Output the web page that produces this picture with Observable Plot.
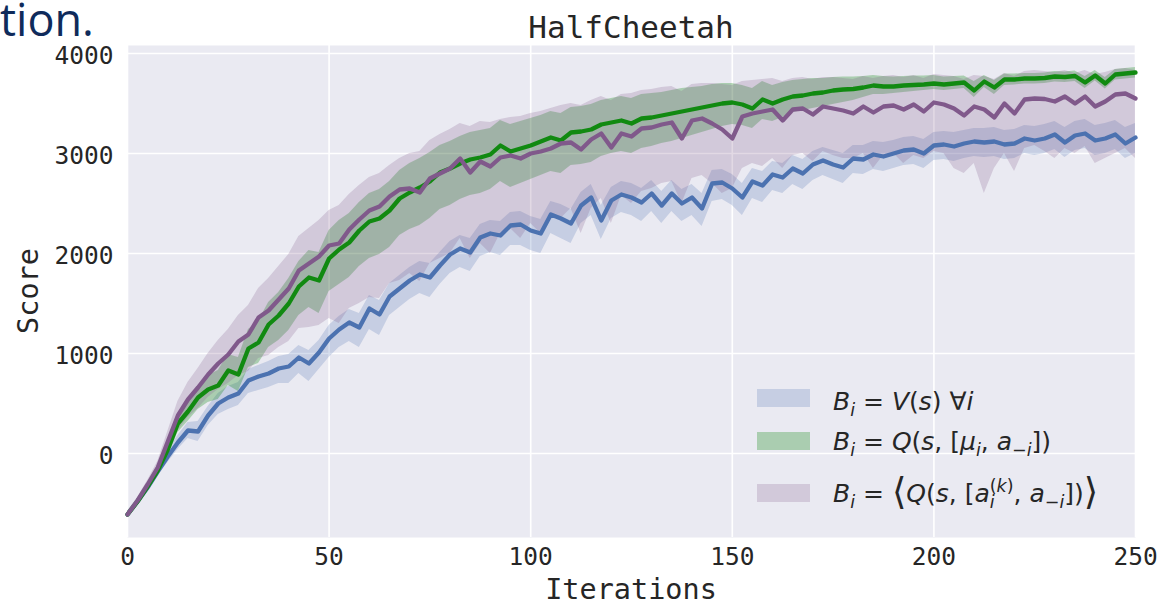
<!DOCTYPE html>
<html>
<head>
<meta charset="utf-8">
<script src="https://cdn.jsdelivr.net/npm/d3@7"></script>
<script src="https://cdn.jsdelivr.net/npm/@observablehq/plot@0.6"></script>
<style>
  html, body { margin: 0; padding: 0; background: #ffffff; }
  body { width: 1160px; height: 605px; overflow: hidden; }
</style>
</head>
<body>
<div id="chart"></div>
<script>
// ---------------- data ----------------
const iterStep = 2.5;               // samples every 2.5 iterations, 0..250
const xTicks = [0, 50, 100, 150, 200, 250];
const yTicks = [0, 1000, 2000, 3000, 4000];
const titleText = "HalfCheetah";
const xLabel = "Iterations";
const yLabel = "Score";
const seriesNames = ["V", "Qmu", "Qavg"];

const blueMean = [
  -610,-480,-340,-180,-30,110,230,220,380,500,
  560,600,730,770,800,850,870,960,900,1010,
  1150,1240,1310,1260,1450,1390,1570,1650,1730,1790,
  1760,1880,1990,2050,2010,2160,2200,2180,2280,2290,
  2230,2200,2390,2350,2300,2480,2560,2330,2530,2590,
  2560,2510,2600,2480,2600,2500,2560,2450,2700,2710,
  2650,2560,2720,2680,2790,2760,2850,2800,2890,2930,
  2890,2860,2950,2940,2990,2970,3000,3030,3040,3000,
  3080,3090,3070,3100,3120,3110,3120,3090,3100,3150,
  3130,3150,3190,3110,3180,3200,3130,3150,3190,3100,
  3160];
const blueLo = [
  -640,-510,-380,-230,-90,40,150,120,280,390,
  440,480,600,630,660,700,700,800,720,840,
  960,1060,1120,1060,1240,1180,1380,1460,1540,1600,
  1560,1690,1800,1860,1820,1970,2010,1980,2080,2080,
  2030,2000,2200,2150,2100,2300,2380,2140,2350,2410,
  2380,2320,2420,2300,2420,2320,2380,2270,2520,2540,
  2480,2380,2550,2510,2630,2600,2690,2640,2730,2780,
  2740,2700,2800,2790,2840,2820,2850,2880,2890,2850,
  2930,2940,2920,2950,2970,2960,2970,2940,2950,3000,
  2980,3000,3040,2960,3030,3050,2980,3000,3040,2950,
  3000];
const blueHi = [
  -580,-450,-300,-130,30,180,310,320,470,600,
  670,710,840,880,920,970,990,1080,1030,1130,
  1280,1370,1440,1400,1580,1530,1700,1780,1860,1920,
  1900,2010,2120,2180,2150,2290,2330,2320,2410,2420,
  2370,2340,2520,2490,2440,2610,2690,2480,2660,2720,
  2700,2650,2730,2620,2730,2640,2690,2600,2830,2840,
  2790,2700,2850,2820,2920,2900,2980,2940,3020,3060,
  3030,3000,3080,3080,3120,3110,3130,3160,3170,3140,
  3210,3220,3210,3230,3250,3250,3260,3230,3240,3280,
  3270,3290,3320,3260,3320,3340,3280,3300,3330,3260,
  3300];

const greenMean = [
  -610,-480,-330,-170,40,300,420,560,640,680,
  830,790,1050,1110,1290,1380,1500,1670,1760,1730,
  1950,2040,2110,2230,2320,2350,2430,2550,2610,2660,
  2720,2810,2850,2900,2940,2960,2990,3080,3020,3050,
  3080,3120,3160,3130,3210,3220,3240,3290,3310,3330,
  3300,3350,3360,3380,3400,3420,3440,3460,3480,3500,
  3510,3490,3450,3540,3500,3540,3570,3580,3600,3610,
  3630,3640,3645,3660,3680,3670,3670,3680,3685,3690,
  3700,3690,3700,3710,3630,3720,3660,3740,3740,3750,
  3750,3755,3770,3765,3775,3710,3780,3700,3790,3800,
  3810];
const greenLo = [
  -640,-510,-370,-220,-30,210,320,440,510,540,
  680,620,860,900,1060,1130,1230,1380,1460,1400,
  1620,1690,1760,1870,1950,1990,2060,2180,2240,2280,
  2350,2440,2480,2540,2580,2600,2640,2720,2660,2700,
  2740,2780,2820,2800,2880,2890,2910,2970,3000,3020,
  3000,3050,3070,3100,3120,3150,3180,3210,3240,3270,
  3290,3280,3250,3340,3320,3360,3410,3430,3450,3470,
  3490,3510,3530,3560,3590,3590,3600,3610,3620,3630,
  3640,3630,3640,3650,3560,3660,3590,3680,3685,3695,
  3695,3700,3715,3710,3720,3650,3725,3645,3735,3745,
  3755];
const greenHi = [
  -580,-450,-290,-120,110,390,520,680,780,830,
  990,960,1240,1320,1510,1610,1750,1920,2030,2010,
  2230,2330,2400,2510,2600,2640,2720,2830,2900,2950,
  3010,3080,3120,3170,3210,3230,3250,3330,3290,3320,
  3350,3380,3420,3400,3460,3470,3490,3530,3550,3570,
  3550,3590,3600,3610,3630,3650,3660,3670,3690,3700,
  3700,3680,3650,3720,3680,3710,3730,3740,3750,3750,
  3760,3765,3765,3770,3780,3770,3765,3770,3775,3775,
  3780,3765,3770,3775,3720,3780,3730,3795,3795,3800,
  3800,3805,3820,3815,3825,3770,3830,3760,3840,3850,
  3860];

const purpleMean = [
  -610,-470,-310,-140,120,380,540,660,790,900,
  990,1120,1190,1360,1430,1540,1650,1830,1900,1970,
  2080,2100,2240,2340,2430,2470,2570,2640,2650,2610,
  2750,2800,2850,2950,2810,2920,2870,2960,2980,2950,
  3000,3020,3050,3100,3110,3040,3140,3200,3060,3200,
  3170,3250,3260,3290,3310,3150,3330,3350,3300,3240,
  3150,3370,3400,3420,3440,3330,3440,3450,3390,3470,
  3450,3430,3400,3470,3410,3470,3480,3440,3490,3420,
  3510,3490,3450,3380,3470,3440,3360,3500,3400,3540,
  3550,3545,3520,3570,3500,3570,3470,3520,3590,3600,
  3550];
const purpleLo = [
  -640,-500,-350,-200,20,230,360,450,560,640,
  700,780,820,950,980,1060,1120,1250,1260,1280,
  1350,1300,1450,1500,1560,1550,1700,1730,1800,1720,
  1900,1950,2000,2150,1950,2100,2000,2200,2250,2150,
  2300,2200,2400,2350,2450,2200,2450,2550,2300,2580,
  2500,2620,2650,2700,2720,2500,2750,2780,2700,2600,
  2650,2850,2900,2870,2950,2850,2980,3000,2920,3020,
  2980,2950,2950,3000,2850,2980,3000,2900,2980,2950,
  3020,3000,2850,2800,2900,2600,2850,3000,2820,3050,
  3080,3020,2950,3050,3000,3070,2900,2950,3000,3050,
  2950];
const purpleHi = [
  -580,-440,-270,-80,220,520,710,850,1000,1130,
  1240,1380,1480,1650,1750,1870,1990,2170,2250,2330,
  2430,2480,2590,2680,2760,2800,2880,2950,3000,3020,
  3130,3190,3240,3300,3270,3320,3310,3340,3360,3370,
  3400,3420,3450,3480,3500,3480,3530,3570,3530,3590,
  3600,3630,3640,3660,3670,3620,3690,3700,3700,3690,
  3680,3720,3730,3740,3750,3720,3750,3760,3740,3760,
  3760,3750,3740,3770,3750,3770,3780,3760,3780,3750,
  3790,3780,3770,3740,3780,3770,3740,3800,3770,3820,
  3830,3820,3810,3830,3800,3830,3790,3810,3840,3850,
  3830];

// ---------------- styles ----------------
const styles = {
  V:    { line: "#4c72b0", band: "#4c72b0", bandOpacity: 0.23 },
  Qmu:  { line: "#118a11", band: "#008000", bandOpacity: 0.27 },
  Qavg: { line: "#80598b", band: "#80598b", bandOpacity: 0.23 }
};

const seriesData = {
  V:    { mean: blueMean,   lo: blueLo,   hi: blueHi },
  Qmu:  { mean: greenMean,  lo: greenLo,  hi: greenHi },
  Qavg: { mean: purpleMean, lo: purpleLo, hi: purpleHi }
};

(function draw() {
  for (const k of seriesNames) {
    const s = seriesData[k];
    if (s.mean.length !== 101 || s.lo.length !== 101 || s.hi.length !== 101)
      throw new Error("length mismatch in " + k + ": " + s.mean.length + "," + s.lo.length + "," + s.hi.length);
  }

  const rows = {};
  for (const k of seriesNames) {
    const s = seriesData[k];
    rows[k] = s.mean.map((m, i) => ({ x: i * iterStep, mean: m, lo: s.lo[i], hi: s.hi[i] }));
  }

  const bandMarks = seriesNames.map(k =>
    Plot.areaY(rows[k], { x: "x", y1: "lo", y2: "hi", fill: styles[k].band, fillOpacity: styles[k].bandOpacity })
  );
  const lineOrder = ["V", "Qmu", "Qavg"];
  const lineMarks = lineOrder.map(k =>
    Plot.lineY(rows[k], { x: "x", y: "mean", stroke: styles[k].line, strokeWidth: 4.3, strokeLinejoin: "round" })
  );

  const plot = Plot.plot({
    width: 1160,
    height: 605,
    marginLeft: 127,
    marginRight: 25,
    marginTop: 45,
    marginBottom: 68,
    style: { background: "#ffffff", color: "#262626", fontFamily: "'DejaVu Sans Mono', monospace", fontSize: "24.5px", overflow: "visible" },
    x: { domain: [0, 250], label: null },
    y: { domain: [-840, 4080], label: null },
    marks: [
      Plot.frame({ fill: "#eaeaf2", stroke: "none" }),
      Plot.gridX({ ticks: xTicks, stroke: "#ffffff", strokeOpacity: 1, strokeWidth: 1.6 }),
      Plot.gridY({ ticks: yTicks, stroke: "#ffffff", strokeOpacity: 1, strokeWidth: 1.6 }),
      ...bandMarks,
      ...lineMarks,
      Plot.axisX({ ticks: xTicks, tickSize: 0, tickPadding: 10, label: null, fontSize: 24.5, tickFormat: d => String(d) }),
      Plot.axisY({ ticks: yTicks, tickSize: 0, tickPadding: 14, label: null, fontSize: 24.5, dy: 3, tickFormat: d => String(d) })
    ]
  });

  document.getElementById("chart").appendChild(plot);

  // ---------------- titles, labels, legend ----------------
  const svg = d3.select(plot);
  const sx = plot.scale("x"), sy = plot.scale("y");
  const fLeft = sx.apply(0), fRight = sx.apply(250);
  const fTop = sy.apply(4080), fBottom = sy.apply(-840);
  const cx = (fLeft + fRight) / 2, cy = (fTop + fBottom) / 2;

  // cropped text fragment from the surrounding document
  svg.append("text")
    .attr("x", 0).attr("y", 36)
    .attr("text-anchor", "start")
    .style("font-family", "'Open Sans', 'Noto Sans', sans-serif")
    .style("font-size", "45px")
    .style("fill", "#0f2b5b")
    .text("tion.");

  svg.append("text")
    .attr("x", cx).attr("y", fTop - 7)
    .attr("text-anchor", "middle")
    .style("font-family", "'DejaVu Sans Mono', monospace")
    .style("font-size", "31px")
    .style("fill", "#262626")
    .text(titleText);

  svg.append("text")
    .attr("x", cx).attr("y", fBottom + 62)
    .attr("text-anchor", "middle")
    .style("font-family", "'DejaVu Sans Mono', monospace")
    .style("font-size", "28.5px")
    .style("fill", "#262626")
    .text(xLabel);

  svg.append("text")
    .attr("transform", `translate(${fLeft - 89},${cy}) rotate(-90)`)
    .attr("text-anchor", "middle")
    .style("font-family", "'DejaVu Sans Mono', monospace")
    .style("font-size", "28.5px")
    .style("fill", "#262626")
    .text(yLabel);

  function mathText(g, x, y, parts) {
    const t = g.append("text").attr("x", x).attr("y", y)
      .attr("text-anchor", "start")
      .style("font-family", "'DejaVu Sans', sans-serif")
      .style("font-size", "25px")
      .style("fill", "#262626");
    let cur = 0;
    for (const p of parts) {
      let target = 0;
      if (p.s === "sub") target = 6;
      else if (p.s === "sup") target = -10;
      if (p.sh !== undefined) target = p.sh;
      const ts = t.append("tspan").text(p.t);
      if (target - cur !== 0) ts.attr("dy", target - cur);
      cur = target;
      if (p.i) ts.style("font-style", "italic");
      if (p.s) ts.style("font-size", "17.5px");
      if (p.f) ts.style("font-size", p.f + "px");
      if (p.dx) ts.attr("dx", p.dx);
    }
  }

  const lg = svg.append("g").attr("text-anchor", "start");
  const legendEntries = [
    { key: "V", yc: fBottom - 139, base: fBottom - 127, parts: [
      { t: "B", i: 1 }, { t: "i", i: 1, s: "sub" }, { t: " = " }, { t: "V", i: 1 }, { t: "(" },
      { t: "s", i: 1 }, { t: ")" }, { t: " \u2200" }, { t: "i", i: 1 }
    ]},
    { key: "Qmu", yc: fBottom - 96, base: fBottom - 87, parts: [
      { t: "B", i: 1 }, { t: "i", i: 1, s: "sub" }, { t: " = " }, { t: "Q", i: 1 }, { t: "(" },
      { t: "s", i: 1 }, { t: ", [" }, { t: "\u03bc", i: 1 }, { t: "i", i: 1, s: "sub" }, { t: ", " },
      { t: "a", i: 1 }, { t: "\u2212", s: "sub" }, { t: "i", i: 1, s: "sub" }, { t: "])" }
    ]},
    { key: "Qavg", yc: fBottom - 44, base: fBottom - 35, parts: [
      { t: "B", i: 1 }, { t: "i", i: 1, s: "sub" }, { t: " = " }, { t: "\u27e8", f: 37, sh: 2 },
      { t: "Q", i: 1 }, { t: "(" }, { t: "s", i: 1 }, { t: ", [" }, { t: "a", i: 1 },
      { t: "i", i: 1, s: "sub" }, { t: "(", s: "sup", dx: -4.9 }, { t: "k", i: 1, s: "sup" }, { t: ")", s: "sup" },
      { t: ", " }, { t: "a", i: 1 }, { t: "\u2212", s: "sub" }, { t: "i", i: 1, s: "sub" }, { t: "])" },
      { t: "\u27e9", f: 37, sh: 2 }
    ]}
  ];

  for (const e of legendEntries) {
    lg.append("rect")
      .attr("x", fRight - 378).attr("y", e.yc - 9)
      .attr("width", 53).attr("height", 18)
      .attr("fill", styles[e.key].band)
      .attr("fill-opacity", styles[e.key].bandOpacity);
    mathText(lg, fRight - 302, e.base, e.parts);
  }
})();
</script>
</body>
</html>
